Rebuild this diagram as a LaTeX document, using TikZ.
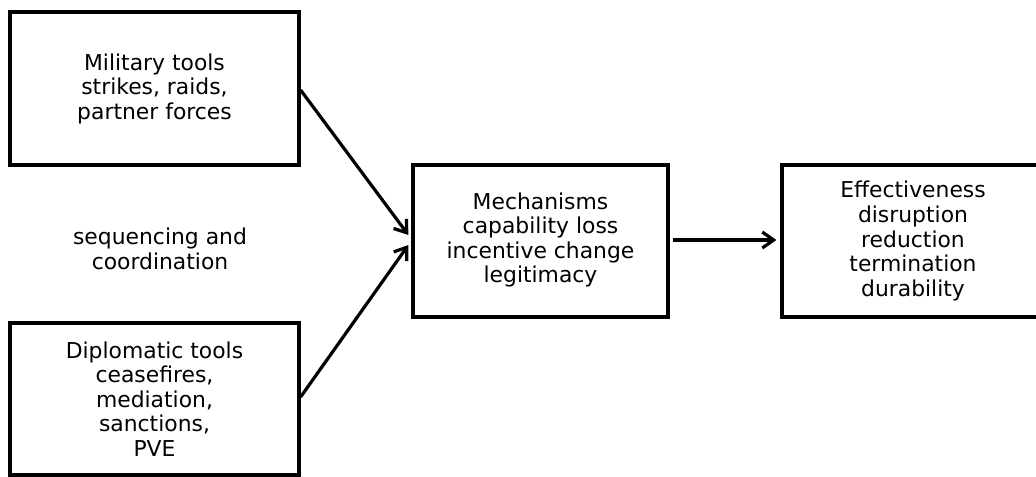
\documentclass[tikz,border=0pt]{standalone}
\usepackage{fontspec}
\setmainfont{DejaVu Sans}
\usetikzlibrary{arrows.meta}
\begin{document}
\begin{tikzpicture}[x=0.75pt,y=-0.75pt,
  box/.style={draw=black,line width=2.4pt,align=center,inner sep=0pt,
    font=\fontsize{16.4pt}{18.4pt}\selectfont},
  lbl/.style={align=center,font=\fontsize{16.4pt}{18.4pt}\selectfont},
  conn/.style={line width=2.4pt,-{Straight Barb[length=8.5pt,width=12pt,line width=2.4pt]}}]
\useasboundingbox (0,0) rectangle (1036,476);
\clip (0,0) rectangle (1036,476);
\node[box,minimum width=289*0.75pt,minimum height=153*0.75pt] (mil) at (154.5,88.5)
  {Military tools\\strikes, raids,\\partner forces};
\node[box,minimum width=289*0.75pt,minimum height=152*0.75pt] (dip) at (154.5,399)
  {Diplomatic tools\\ceasefires,\\mediation,\\sanctions,\\PVE};
\node[box,minimum width=255*0.75pt,minimum height=152*0.75pt] (mech) at (540.5,241)
  {\raisebox{2pt}{\begin{tabular}{@{}c@{}}Mechanisms\\capability loss\\incentive change\\legitimacy\end{tabular}}};
\node[box,minimum width=262*0.75pt,minimum height=152*0.75pt] (eff) at (913,241)
  {Effectiveness\\disruption\\reduction\\termination\\durability};
\node[lbl] (seq) at (160,249) {sequencing and\\coordination};
\draw[conn] ([yshift=-1.5*0.75pt]mil.east) -- ([xshift=-3*0.75pt,yshift=6*0.75pt]mech.west);
\draw[conn] ([yshift=2*0.75pt]dip.east) -- ([xshift=-3*0.75pt,yshift=-4*0.75pt]mech.west);
\draw[conn] ([xshift=3*0.75pt,yshift=1*0.75pt]mech.east) -- ([xshift=-4*0.75pt,yshift=1*0.75pt]eff.west);
\end{tikzpicture}
\end{document}
